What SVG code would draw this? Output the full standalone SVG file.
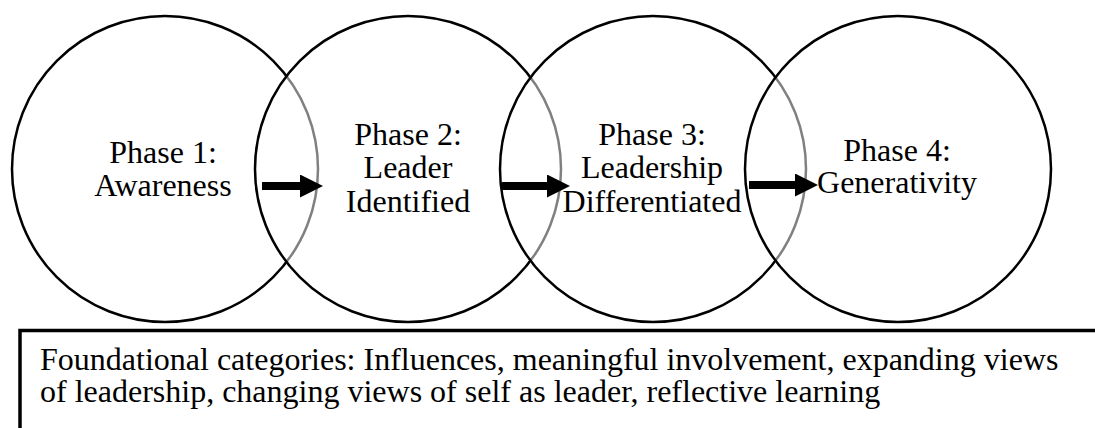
<svg xmlns="http://www.w3.org/2000/svg" width="1095" height="428" viewBox="0 0 1095 428">
<style>
.c{fill:#fff;fill-opacity:0.5;stroke:#000;stroke-width:2.5}
.t{font-size:32px;fill:#000;text-anchor:middle}
.b{font-size:32px;fill:#000}
.a{stroke:#000;stroke-width:8;fill:none;marker-end:url(#ah)}
</style>
<defs>
<marker id="ah" markerUnits="userSpaceOnUse" markerWidth="24" markerHeight="24" refX="0" refY="11.5" orient="auto" viewBox="0 0 24 24">
<path d="M0,0 L23,11.5 L0,23 z" fill="#000"/>
</marker>
</defs>
<rect width="1095" height="428" fill="#fff"/>
<g font-family="Liberation Serif, Times New Roman, DejaVu Serif, serif">
<g id="phase1"><circle class="c" cx="165" cy="169" r="153"/><text class="t" x="163" y="163">Phase 1:</text><text class="t" x="163" y="196">Awareness</text></g>
<g id="phase2"><circle class="c" cx="408" cy="169" r="153"/><text class="t" x="408" y="145">Phase 2:</text><text class="t" x="408" y="178">Leader</text><text class="t" x="408" y="212">Identified</text></g>
<g id="phase3"><circle class="c" cx="653" cy="169" r="153"/><text class="t" x="652" y="145">Phase 3:</text><text class="t" x="652" y="178">Leadership</text><text class="t" x="652" y="212">Differentiated</text></g>
<g id="phase4"><circle class="c" cx="898" cy="169" r="153"/><text class="t" x="897" y="161">Phase 4:</text><text class="t" x="897" y="193">Generativity</text></g>
<g id="connectors">
<line class="a" x1="262" y1="186" x2="300" y2="186"/>
<line class="a" x1="502" y1="186" x2="547" y2="186"/>
<line class="a" x1="749" y1="185" x2="795" y2="185"/>
</g>
<g id="categories">
<path d="M20,440 V330.5 H1100" fill="none" stroke="#000" stroke-width="3.5"/>
<text class="b" x="40" y="370">Foundational categories: Influences, meaningful involvement, expanding views</text>
<text class="b" x="40" y="402">of leadership, changing views of self as leader, reflective learning</text>
</g>
</g>
</svg>
